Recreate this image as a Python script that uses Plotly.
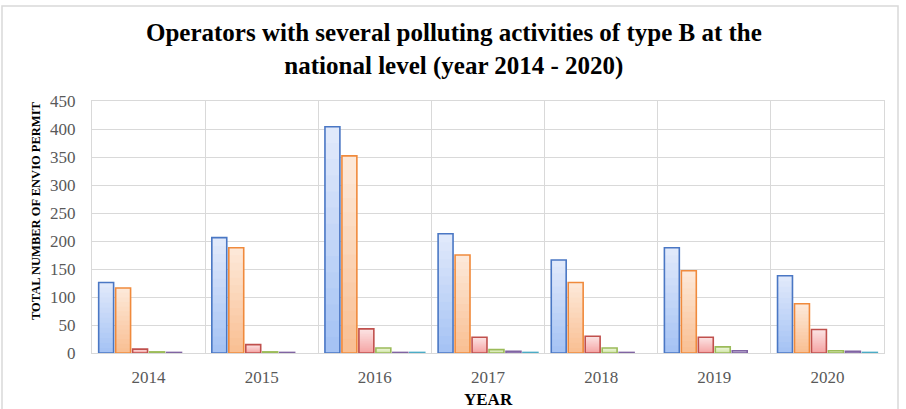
import plotly.graph_objects as go

# Permits per year, one list per activity series
years = ["2014", "2015", "2016", "2017", "2018", "2019", "2020"]
series_1 = [126, 206, 404, 213, 166, 188, 138]
series_2 = [116, 188, 352, 175, 126, 147, 88]
series_3 = [7, 15, 43, 28, 30, 28, 42]
series_4 = [2, 2, 9, 6, 9, 11, 4]
series_5 = [1, 1, 1, 3, 1, 4, 3]
series_6 = [0, 0, 1, 1, 0, 0, 1]

y_ticks = [0, 50, 100, 150, 200, 250, 300, 350, 400, 450]

all_series = [series_1, series_2, series_3, series_4, series_5, series_6]
# (outline, gradient top, gradient bottom)
styles = [
    ("#4a77c4", (0xE0, 0xE9, 0xFB), (0xA6, 0xC3, 0xF4)),
    ("#f08a3c", (0xFD, 0xE8, 0xD8), (0xF9, 0xC0, 0x94)),
    ("#c0504d", (0xFB, 0xE2, 0xE2), (0xF5, 0xA6, 0xA6)),
    ("#9bbb59", (0xEF, 0xF6, 0xDE), (0xD2, 0xE6, 0xAA)),
    ("#8064a2", (0xEA, 0xE2, 0xF2), (0xC2, 0xB2, 0xD8)),
    ("#4bacc6", (0xDF, 0xF1, 0xF7), (0xA6, 0xDA, 0xE8)),
]

STEPS = 14


def mix(c1, c2, t):
    return "rgb(%d,%d,%d)" % tuple(round(a + (b - a) * t) for a, b in zip(c1, c2))


fig = go.Figure()
for i, (vals, (edge, top, bottom)) in enumerate(zip(all_series, styles)):
    group = "s%d" % i
    # vertical gradient: full-height light bar, then shorter, darker bars over it
    for k in range(STEPS):
        frac = 1 - k / STEPS
        fig.add_trace(go.Bar(
            x=years, y=[v * frac for v in vals], offsetgroup=group,
            marker=dict(color=mix(top, bottom, k / (STEPS - 1)), line=dict(width=0)),
            showlegend=False, hoverinfo="skip",
        ))
    # outline on top (zero-height bars get no outline)
    fig.add_trace(go.Bar(
        x=years, y=vals, offsetgroup=group, name="Series %d" % (i + 1),
        marker=dict(color="rgba(0,0,0,0)",
                    line=dict(color=edge, width=[1.6 if v > 0 else 0 for v in vals])),
        showlegend=False,
    ))

W, H = 906, 409
ml, mr, mt, mb = 92, 22, 101, 56
pw, ph = W - ml - mr, H - mt - mb

grid = "#d9d9d9"
fig.update_layout(
    width=W, height=H,
    margin=dict(l=ml, r=mr, t=mt, b=mb),
    paper_bgcolor="white", plot_bgcolor="white",
    barmode="group", bargap=0.1, bargroupgap=0.12,
    font=dict(family="Liberation Serif", color="#595959"),
    title=dict(
        text="Operators with several polluting activities of type B at the<br>national level (year 2014 - 2020)",
        font=dict(family="Liberation Serif", size=25, color="black", weight="bold"),
        x=0.501, xref="container", xanchor="center",
        y=1 - 41 / H, yref="container", yanchor="middle",
    ),
    xaxis=dict(
        type="category", tickson="boundaries", showgrid=True, gridcolor=grid, gridwidth=1.3,
        showline=True, linecolor=grid, linewidth=1.3, mirror=True, automargin=False,
        ticks="", tickfont=dict(size=17, color="#595959"), ticklabelstandoff=8,
    ),
    yaxis=dict(
        range=[0, 450], tickvals=y_ticks, showgrid=True, gridcolor=grid, gridwidth=1.3,
        showline=True, linecolor=grid, linewidth=1.3, mirror=True, zeroline=False,
        automargin=False,
        ticks="", tickfont=dict(size=17, color="#595959"), ticklabelstandoff=12,
    ),
)

# axis titles
fig.add_annotation(
    text="TOTAL NUMBER OF ENVIO PERMIT", textangle=-90,
    xref="paper", yref="paper", x=(36 - ml) / pw, y=(H - mb - 211) / ph,
    xanchor="center", yanchor="middle", showarrow=False,
    font=dict(family="Liberation Serif", size=12.5, color="black", weight="bold"),
)
fig.add_annotation(
    text="YEAR",
    xref="paper", yref="paper", x=(488 - ml) / pw, y=(H - mb - 399) / ph,
    xanchor="center", yanchor="middle", showarrow=False,
    font=dict(family="Liberation Serif", size=17, color="black", weight="bold"),
)

# outer chart frame
fig.add_shape(
    type="rect", xref="paper", yref="paper",
    x0=(2 - ml) / pw, x1=(898 - ml) / pw,
    y0=-(mb + 20) / ph, y1=(H - 6 - mb) / ph,
    line=dict(color=grid, width=1.5), fillcolor="rgba(0,0,0,0)", layer="below",
)

fig.write_html("out.html")
